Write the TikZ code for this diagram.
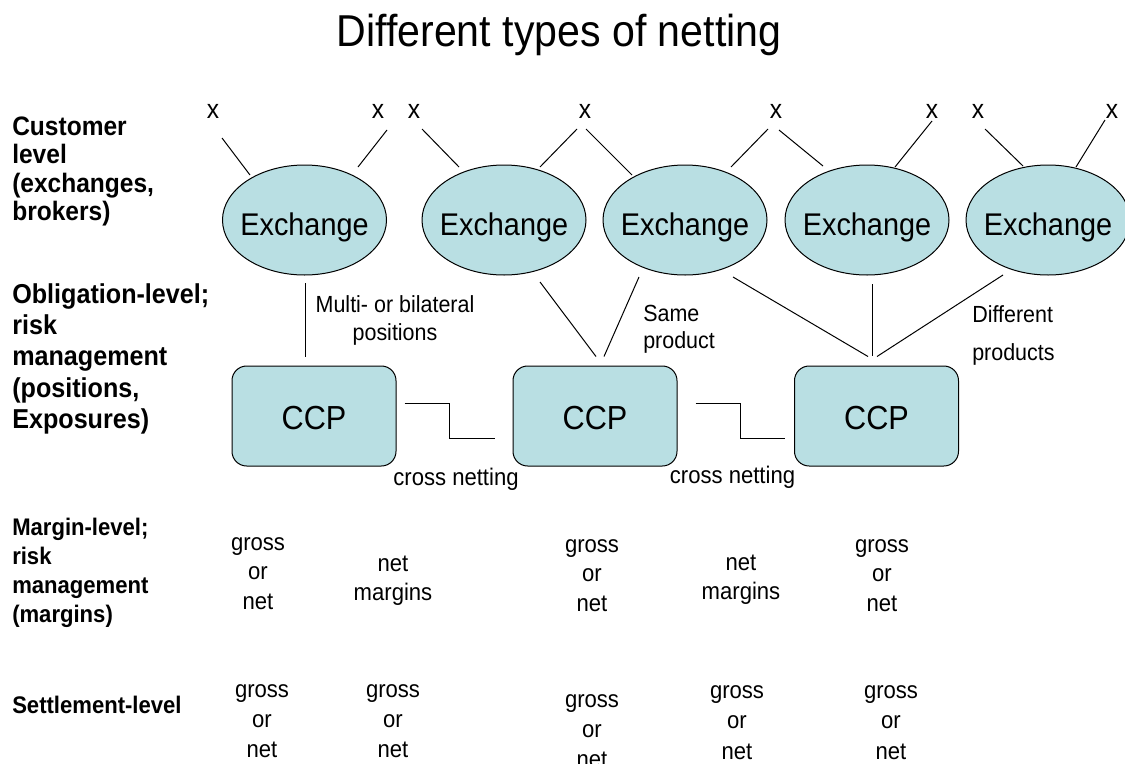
\documentclass[tikz,border=0pt]{standalone}
\usepackage{fontspec}
\setmainfont{Liberation Sans}[FakeStretch=0.92]
\usetikzlibrary{shapes.geometric,calc}
\definecolor{boxfill}{RGB}{185,223,227}
% first-line strut: fixes the distance from a node's top to its first baseline
\newcommand{\firstln}{\rule{0pt}{16pt}}

\begin{document}
\begin{tikzpicture}[x=0.75pt,y=-0.75pt,
  exch/.style={ellipse,draw=black,line width=0.75pt,fill=boxfill,
    minimum width=123pt,minimum height=82.5pt,inner sep=0pt,
    font=\fontsize{23.5}{28}\selectfont,text height=22.5pt,text depth=0pt},
  ccpbox/.style={rectangle,rounded corners=11pt,draw=black,line width=0.75pt,
    fill=boxfill,minimum width=123pt,minimum height=75pt,inner sep=0pt,
    font=\fontsize{25}{30}\selectfont,text height=20pt,text depth=0pt},
  xmk/.style={font=\fontsize{20}{24}\selectfont,anchor=base,inner sep=0pt},
  link/.style={draw=black,line width=0.75pt},
  levellbl/.style={align=left,anchor=north west,inner sep=0pt},
  note/.style={inner sep=0pt},
  cell/.style={align=center,anchor=north,inner sep=0pt}
]
\useasboundingbox (0,0) rectangle (1125,764);
\fill[white] (0,0) rectangle (1125,764);

% title
\node[font=\fontsize{33.5}{40}\selectfont,anchor=base,inner sep=0pt] (title) at (559,46) {Different types of netting};

% level labels on the left
\node[levellbl,font=\bfseries\fontsize{20}{21.4}\selectfont] (lab1) at (12,113.7)
  {\firstln Customer\\level\\(exchanges,\\brokers)};
\node[levellbl,font=\bfseries\fontsize{20.5}{23.5}\selectfont] (lab2) at (12,281.7)
  {\firstln Obligation-level;\\risk\\management\\(positions,\\Exposures)};
\node[levellbl,font=\bfseries\fontsize{18}{21.75}\selectfont] (lab3) at (12,513.7)
  {\firstln Margin-level;\\risk\\management\\(margins)};
\node[font=\bfseries\fontsize{18}{21.75}\selectfont,anchor=base west,inner sep=0pt] (lab4) at (12,713)
  {Settlement-level};

% customers
\node[xmk] (x1) at (213,118) {x};
\node[xmk] (x2) at (378,118) {x};
\node[xmk] (x3) at (414,118) {x};
\node[xmk] (x4) at (585,118) {x};
\node[xmk] (x5) at (776,118) {x};
\node[xmk] (x6) at (932,118) {x};
\node[xmk] (x7) at (978,118) {x};
\node[xmk] (x8) at (1112,118) {x};

% exchanges
\node[exch] (e1) at (304.5,220) {\makebox[0pt]{Exchange}};
\node[exch] (e2) at (504,220) {\makebox[0pt]{Exchange}};
\node[exch] (e3) at (685,220) {\makebox[0pt]{Exchange}};
\node[exch] (e4) at (867,220) {\makebox[0pt]{Exchange}};
\node[exch] (e5) at (1048,220) {\makebox[0pt]{Exchange}};

% clearing houses
\node[ccpbox] (ccp1) at (314,416) {CCP};
\node[ccpbox] (ccp2) at (595,416) {CCP};
\node[ccpbox] (ccp3) at (876.5,416) {CCP};

% customers to exchanges
\draw[link] ($(x1.base)+(9,20)$) -- ($(e1)+(-54.5,-45)$);
\draw[link] ($(x2.base)+(9,12)$) -- ($(e1)+(53.5,-53)$);
\draw[link] ($(x3.base)+(8,11)$) -- ($(e2)+(-45,-53)$);
\draw[link] ($(x4.base)+(-8,11)$) -- ($(e2)+(36,-53)$);
\draw[link] ($(x4.base)+(1,11)$) -- ($(e3)+(-53,-45)$);
\draw[link] ($(x5.base)+(-8,11)$) -- ($(e3)+(46,-53)$);
\draw[link] ($(x5.base)+(3,12)$) -- ($(e4)+(-44,-54)$);
\draw[link] ($(x6.base)+(0,3)$) -- ($(e4)+(28,-53)$);
\draw[link] ($(x7.base)+(7,11)$) -- ($(e5)+(-25,-54)$);
\draw[link] ($(x8.base)+(-7,2)$) -- ($(e5)+(28,-53)$);

% exchanges to CCPs
\draw[link] ($(e1)+(0.5,63)$) -- ($(ccp1.north)+(-9,-9)$);
\draw[link] ($(e2)+(36,62)$) -- ($(ccp2.north)+(1,-9)$);
\draw[link] ($(e3)+(-46,57)$) -- ($(ccp2.north)+(9,-9)$);
\draw[link] ($(e3)+(48,57)$) -- ($(ccp3.north)+(-8.5,-9)$);
\draw[link] ($(e4)+(5,64)$) -- ($(ccp3.north)+(-4.5,-10)$);
\draw[link] ($(e5)+(-45,55)$) -- ($(ccp3.north)+(0.5,-9)$);

% cross netting between CCPs
\draw[link] ($(ccp1.east)+(8,-13)$) -- ++(45,0) |- ($(ccp2.west)+(-18,22)$);
\draw[link] ($(ccp2.east)+(18,-13)$) -- ++(45,0) |- ($(ccp3.west)+(-9,22)$);

% connector notes
\node[cell,font=\fontsize{17.5}{21}\selectfont] (multi) at (395,290.7)
  {\firstln Multi- or bilateral\\positions};
\node[levellbl,font=\fontsize{17.5}{20.5}\selectfont] (same) at (643,299.4)
  {\firstln Same\\product};
\node[levellbl,font=\fontsize{17.5}{28.7}\selectfont] (diff) at (972,300.4)
  {\firstln Different\\products};
\node[note,anchor=base,font=\fontsize{18}{21}\selectfont] (cn1) at (456,485) {cross netting};
\node[note,anchor=base,font=\fontsize{18}{21}\selectfont] (cn2) at (732.5,483) {cross netting};

% margin level
\node[cell,font=\fontsize{18}{22.2}\selectfont] (m1) at (258,528.7) {\firstln gross\\or\\net};
\node[cell,font=\fontsize{18}{22.2}\selectfont] (m2) at (393,549.4) {\firstln net\\margins};
\node[cell,font=\fontsize{18}{22.2}\selectfont] (m3) at (592,530.7) {\firstln gross\\or\\net};
\node[cell,font=\fontsize{18}{22.2}\selectfont] (m4) at (741,548.7) {\firstln net\\margins};
\node[cell,font=\fontsize{18}{22.2}\selectfont] (m5) at (882,530.7) {\firstln gross\\or\\net};

% settlement level
\node[cell,font=\fontsize{18}{22.75}\selectfont] (s1) at (262,675.7) {\firstln gross\\or\\net};
\node[cell,font=\fontsize{18}{22.75}\selectfont] (s2) at (393,675.7) {\firstln gross\\or\\net};
\node[cell,font=\fontsize{18}{22.75}\selectfont] (s3) at (592,685.7) {\firstln gross\\or\\net};
\node[cell,font=\fontsize{18}{22.75}\selectfont] (s4) at (737,677) {\firstln gross\\or\\net};
\node[cell,font=\fontsize{18}{22.75}\selectfont] (s5) at (891,677) {\firstln gross\\or\\net};
\end{tikzpicture}
\end{document}
